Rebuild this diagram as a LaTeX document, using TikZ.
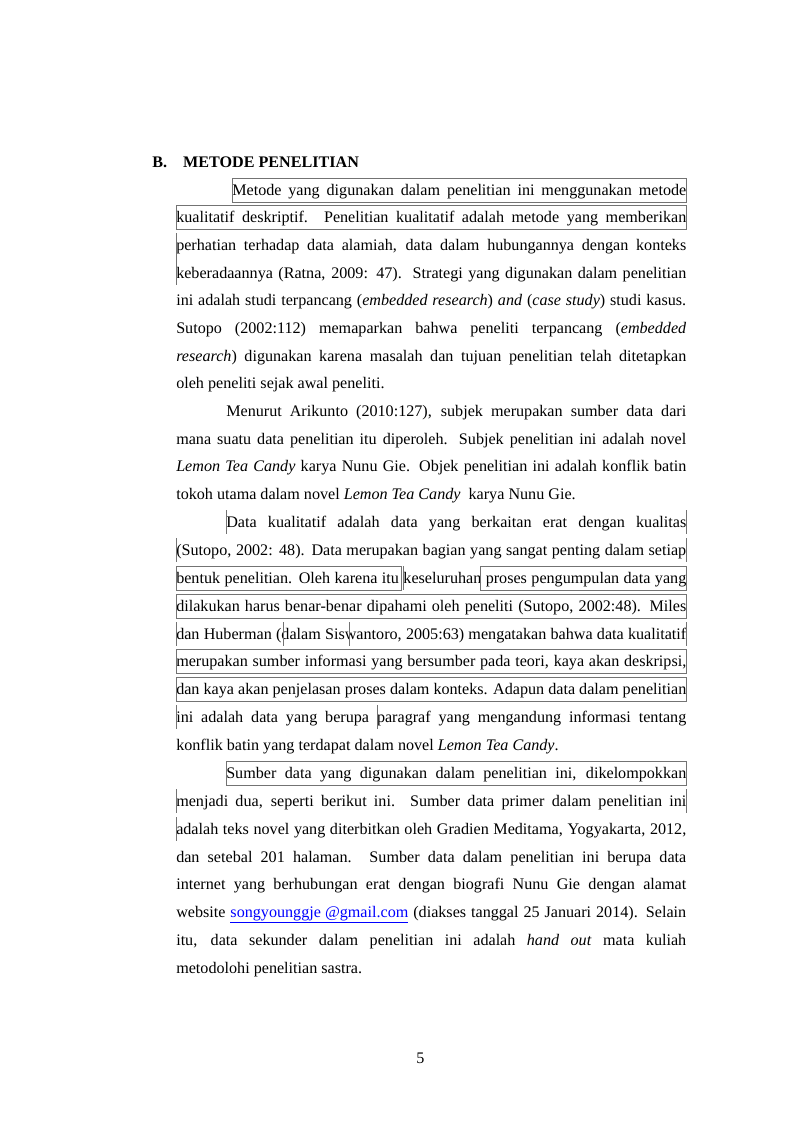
\documentclass[tikz,border=0pt]{standalone}
\usepackage{fontspec}
\setmainfont{Liberation Serif}
\newlength\pxu \setlength\pxu{0.744pt}
\newcommand\jl[2]{\parbox[b]{#1\pxu}{\parfillskip=0pt\relax\noindent #2}}
\tikzset{
  ln/.style={anchor=base west,inner sep=0pt,font=\fontsize{12pt}{14pt}\selectfont},
  mark box/.style={draw=black!55,line width=0.4pt},
}
\begin{document}
\begin{tikzpicture}[x=0.744pt,y=-0.744pt]
  \useasboundingbox[fill=white] (0,0) rectangle (800,1132);
  % heading
  \node[ln,font=\fontsize{12pt}{14pt}\selectfont\bfseries] (head) at (152,167) {B.\hspace{12pt}METODE PENELITIAN};
  % paragraph 1
  \node[ln] (a1) at (232,195) {\jl{454}{Metode yang digunakan dalam penelitian ini menggunakan metode}};
  \node[ln] (a2) at (176,222) {\jl{510}{kualitatif deskriptif. Penelitian kualitatif adalah metode yang memberikan}};
  \node[ln] (a3) at (176,250) {\jl{510}{perhatian terhadap data alamiah, data dalam hubungannya dengan konteks}};
  \node[ln] (a4) at (176,278) {\jl{510}{keberadaannya (Ratna, 2009: 47).\ \ Strategi yang digunakan dalam penelitian}};
  \node[ln] (a5) at (176,305) {\jl{510}{ini adalah studi terpancang (\textit{embedded research}) \textit{and} (\textit{case study}) studi kasus.}};
  \node[ln] (a6) at (176,333) {\jl{510}{Sutopo (2002:112) memaparkan bahwa peneliti terpancang (\textit{embedded}}};
  \node[ln] (a7) at (176,361) {\jl{510}{\textit{research}) digunakan karena masalah dan tujuan penelitian telah ditetapkan}};
  \node[ln] (a8) at (176,388) {oleh peneliti sejak awal peneliti.};
  % paragraph 2
  \node[ln] (b1) at (226,416) {\jl{460}{Menurut Arikunto (2010:127), subjek merupakan sumber data dari}};
  \node[ln] (b2) at (176,444) {\jl{510}{mana suatu data penelitian itu diperoleh. Subjek penelitian ini adalah novel}};
  \node[ln] (b3) at (176,471) {\jl{510}{\textit{Lemon Tea Candy} karya Nunu Gie. Objek penelitian ini adalah konflik batin}};
  \node[ln] (b4) at (176,499) {tokoh utama dalam novel \textit{Lemon Tea Candy}\ \ karya Nunu Gie.};
  % paragraph 3
  \node[ln] (c1) at (226,527) {\jl{460}{Data kualitatif adalah data yang berkaitan erat dengan kualitas}};
  \node[ln] (c2) at (176,555) {\jl{510}{(Sutopo, 2002: 48). Data merupakan bagian yang sangat penting dalam setiap}};
  \node[ln] (c3) at (176,583) {\jl{510}{bentuk penelitian. Oleh karena itu keseluruhan proses pengumpulan data yang}};
  \node[ln] (c4) at (176,611) {\jl{510}{dilakukan harus benar-benar dipahami oleh peneliti (Sutopo, 2002:48). Miles}};
  \node[ln] (c5) at (176,639) {\jl{510}{dan Huberman (dalam Siswantoro, 2005:63) mengatakan bahwa data kualitatif}};
  \node[ln] (c6) at (176,666) {\jl{510}{merupakan sumber informasi yang bersumber pada teori, kaya akan deskripsi,}};
  \node[ln] (c7) at (176,694) {\jl{510}{dan kaya akan penjelasan proses dalam konteks. Adapun data dalam penelitian}};
  \node[ln] (c8) at (176,722) {\jl{510}{ini adalah data yang berupa paragraf yang mengandung informasi tentang}};
  \node[ln] (c9) at (176,750) {konflik batin yang terdapat dalam novel \textit{Lemon Tea Candy}.};
  % paragraph 4
  \node[ln] (d1) at (226,778) {\jl{460}{Sumber data yang digunakan dalam penelitian ini, dikelompokkan}};
  \node[ln] (d2) at (176,806) {\jl{510}{menjadi dua, seperti berikut ini. Sumber data primer dalam penelitian ini}};
  \node[ln] (d3) at (176,834) {\jl{510}{adalah teks novel yang diterbitkan oleh Gradien Meditama, Yogyakarta, 2012,}};
  \node[ln] (d4) at (176,862) {\jl{510}{dan setebal 201 halaman. Sumber data dalam penelitian ini berupa data}};
  \node[ln] (d5) at (176,889) {\jl{510}{internet yang berhubungan erat dengan biografi Nunu Gie dengan alamat}};
  \node[ln] (d6) at (176,917) {\jl{510}{website \textcolor{blue}{\underline{songyounggje @gmail.com}} (diakses tanggal 25 Januari 2014). Selain}};
  \node[ln] (d7) at (176,945) {\jl{510}{itu, data sekunder dalam penelitian ini adalah \textit{hand out} mata kuliah}};
  \node[ln] (d8) at (176,973) {metodolohi penelitian sastra.};
  % page number
  \node[ln] (pg) at (416,1063) {5};
  % annotation boxes
  \draw[mark box] (232,178) rectangle (686,202);
  \draw[mark box] (176,205) rectangle (686,229);
  \draw[mark box] (176,233) -- (176,285);
  \draw[mark box] (226,510) -- (226,534) (686,510) -- (686,534);
  \draw[mark box] (176,538) -- (176,562) (686,538) -- (686,562);
  \draw[mark box] (176,566) rectangle (401,590);
  \draw[mark box] (403,566) -- (403,590);
  \draw[mark box] (480,566) rectangle (686,590);
  \draw[mark box] (176,594) rectangle (686,618);
  \draw[mark box] (176,622) -- (176,646) (283,622) -- (283,646)
                  (349,622) -- (349,646) (686,622) -- (686,646);
  \draw[mark box] (176,649) rectangle (686,673);
  \draw[mark box] (176,677) rectangle (686,701);
  \draw[mark box] (176,705) -- (176,729) (377,705) -- (377,729);
  \draw[mark box] (226,761) rectangle (686,785);
  \draw[mark box] (176,789) -- (176,813) (686,789) -- (686,813);
  \draw[mark box] (176,817) -- (176,841);
\end{tikzpicture}
\end{document}
